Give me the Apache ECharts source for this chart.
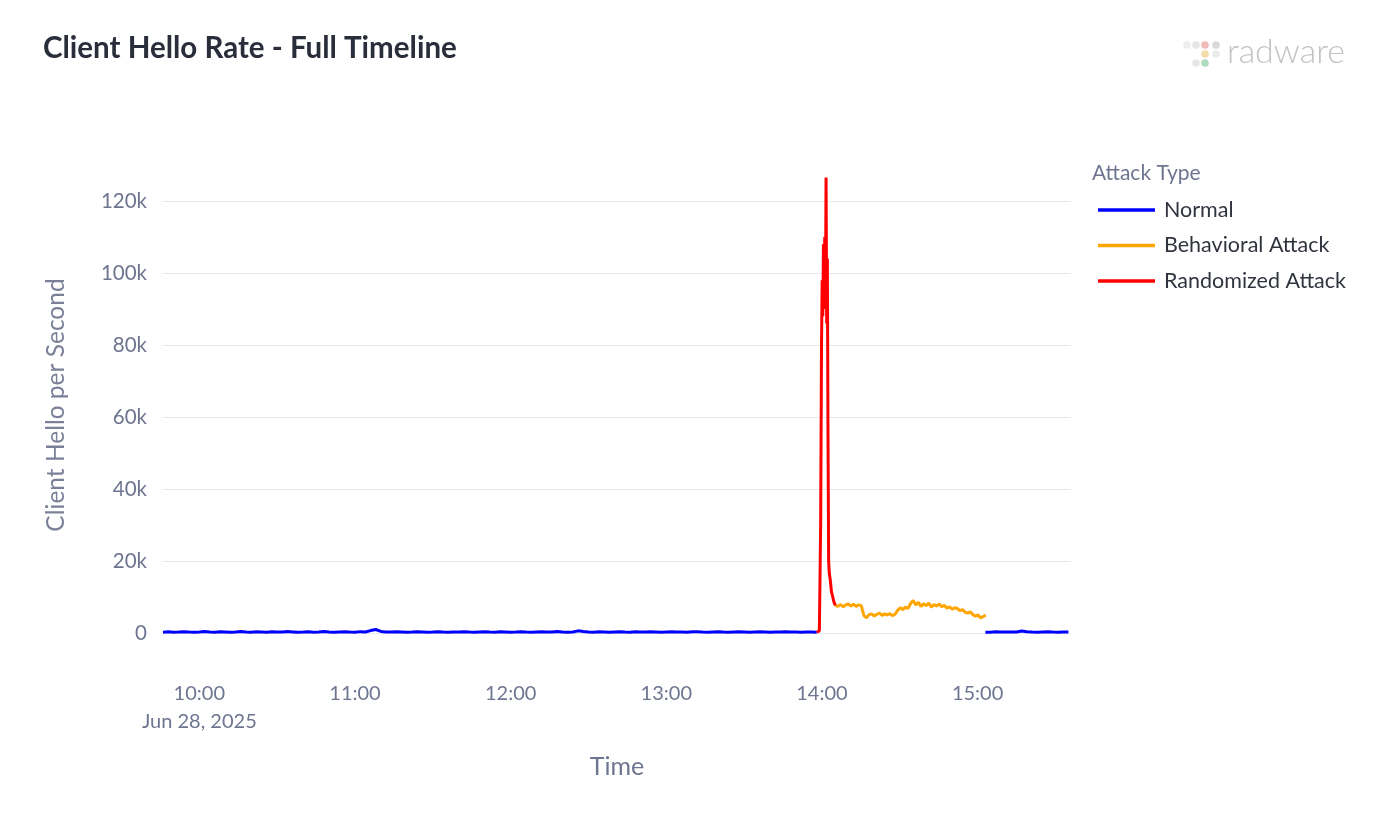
<!DOCTYPE html>
<html>
<head>
<meta charset="utf-8">
<script src="https://cdn.jsdelivr.net/npm/echarts@6/dist/echarts.min.js"></script>
<style>
html,body{margin:0;padding:0;background:#fff;}
#chart{width:1400px;height:818px;}
</style>
</head>
<body>
<div id="chart"></div>
<script>
// ---- Data ----
const seriesNames = ['Normal', 'Behavioral Attack', 'Randomized Attack'];
const seriesColors = ['#0000ff', '#ffa500', '#ff0000'];
const yTickValues = [0, 20000, 40000, 60000, 80000, 100000, 120000];
const yTickLabels = ['0', '20k', '40k', '60k', '80k', '100k', '120k'];
const xTickLabels = ['10:00', '11:00', '12:00', '13:00', '14:00', '15:00'];
const dateLabel = 'Jun 28, 2025';

// Normal traffic, first segment: 09:46 -> 13:58, every 2 minutes
const normalAStart = '09:46:00';
const normalAStepMin = 2;
const normalAValues = [
  240, 330, 200, 280, 370, 250, 210, 300, 440, 270, 220, 350, 290, 180, 260, 410, 300, 230, 320, 270,
  200, 340, 280, 250, 390, 310, 220, 270, 330, 240, 290, 420, 260, 210, 300, 350, 270, 230, 380, 290,
  670, 970, 440, 300, 250, 330, 280, 210, 270, 340, 300, 230, 290, 370, 250, 220, 310, 280, 340, 260,
  200, 290, 330, 270, 240, 380, 300, 220, 280, 350, 260, 230, 310, 340, 290, 250, 400, 280, 220, 270,
  600, 440, 290, 240, 330, 280, 210, 300, 360, 270, 230, 320, 290, 250, 340, 280, 220, 300, 370, 260,
  290, 230, 320, 350, 270, 210, 300, 380, 260, 240, 310, 330, 280, 220, 290, 340, 270, 200, 250, 300,
  330, 260, 290, 240, 310, 270, 200
];
// Normal traffic, second segment: 15:03 -> 15:35, every 2 minutes
const normalBStart = '15:03:00';
const normalBStepMin = 2;
const normalBValues = [240, 200, 330, 280, 250, 310, 290, 540, 340, 270, 220, 300, 350, 260, 230, 290, 270];

// Randomized attack spike
const randomTimes = [
  '13:58:00', '13:59:00', '13:59:30', '13:59:50', '14:00:05', '14:00:20', '14:00:35', '14:00:50',
  '14:01:05', '14:01:20', '14:01:35', '14:01:50', '14:02:05', '14:02:20', '14:02:35', '14:02:50',
  '14:03:10', '14:03:40', '14:04:10', '14:04:40', '14:05:10'
];
const randomValues = [
  200, 600, 30000, 80000, 98000, 88000, 108000, 95000,
  110000, 90000, 126500, 86000, 104000, 55000, 20000, 16500,
  15000, 11500, 10000, 8500, 7700
];

// Behavioral attack: 14:05 -> 15:03, every minute
const behavioralStart = '14:05:10';
const behavioralStepMin = 1;
const behavioralValues = [
  7700, 7400, 7900, 7300, 7800, 8100, 7500, 8000, 7400, 7800, 7600,
  4800, 4200, 5100, 5300, 4700, 5200, 5500, 4900, 5300, 5000, 5400, 4800, 5200,
  6300, 7000, 6500, 7200, 6800,
  8200, 9000, 7800, 8500, 7400, 8100, 7600, 8300, 7200, 7900, 7500, 8000, 7300, 7700,
  6900, 7300, 6600, 7000, 6800, 6200, 6500, 5800, 5500, 5900, 5100, 4700, 5000, 4200, 4600, 5000
];

const axisMinTime = '09:46:00';
const axisMaxTime = '15:36:00';

// ---- Helpers ----
function ts(hms) {
  const p = hms.split(':').map(Number);
  return new Date(2025, 5, 28, p[0], p[1], p[2] || 0).getTime();
}
function stepped(start, stepMin, values) {
  const t0 = ts(start);
  return values.map((v, i) => [t0 + i * stepMin * 60000, v]);
}

const normalData = stepped(normalAStart, normalAStepMin, normalAValues)
  .concat([[ts('14:30:00'), null]])
  .concat(stepped(normalBStart, normalBStepMin, normalBValues));
const behavioralData = stepped(behavioralStart, behavioralStepMin, behavioralValues);
const randomData = randomTimes.map((t, i) => [ts(t), randomValues[i]]);

const tickColor = '#6e7590';
const fontFam = 'Lato, "Noto Sans", sans-serif';

const chart = echarts.init(document.getElementById('chart'), null, {renderer: 'canvas'});
chart.setOption({
  animation: false,
  backgroundColor: '#ffffff',
  title: [
    {
      text: 'Client Hello Rate - Full Timeline',
      left: 38, top: 28,
      textStyle: {fontFamily: fontFam, fontWeight: 'bold', fontSize: 29.5, color: '#2a2e3b'}
    },
    {
      text: 'Attack Type',
      left: 1087, top: 158,
      textStyle: {fontFamily: fontFam, fontWeight: 'normal', fontSize: 21, color: tickColor}
    }
  ],
  graphic: [
    {type: 'circle', shape: {cx: 1187, cy: 45, r: 3.8}, style: {fill: '#ededed'}},
    {type: 'circle', shape: {cx: 1196, cy: 45, r: 3.8}, style: {fill: '#e6e6e6'}},
    {type: 'circle', shape: {cx: 1205, cy: 45, r: 3.8}, style: {fill: '#f2b9b9'}},
    {type: 'circle', shape: {cx: 1216, cy: 45, r: 3.8}, style: {fill: '#d9d9d9'}},
    {type: 'circle', shape: {cx: 1205, cy: 54, r: 3.8}, style: {fill: '#f7dcab'}},
    {type: 'circle', shape: {cx: 1216, cy: 54, r: 3.8}, style: {fill: '#ececec'}},
    {type: 'circle', shape: {cx: 1196, cy: 63, r: 3.8}, style: {fill: '#e6e6e6'}},
    {type: 'circle', shape: {cx: 1205, cy: 63, r: 3.8}, style: {fill: '#acdcbd'}},
    {type: 'text', left: 1227, top: 35, style: {text: 'radware', fontFamily: fontFam, fontWeight: 300, fontSize: 34, fill: '#c3c3c3'}},
    {type: 'text', x: 56, y: 405, rotation: Math.PI / 2,
     style: {text: 'Client Hello per Second', fontFamily: fontFam, fontSize: 24.5, fill: '#7a8098', align: 'center', verticalAlign: 'middle'}}
  ],
  legend: {
    orient: 'vertical',
    left: 1093, top: 194,
    data: seriesNames,
    icon: 'rect',
    itemWidth: 57, itemHeight: 3.5,
    itemGap: 13.5,
    textStyle: {fontFamily: fontFam, fontSize: 21.5, color: '#30343f', lineHeight: 22, padding: [0, 0, 0, 4]}
  },
  grid: {left: 163, right: 329, top: 201, bottom: 185, containLabel: false},
  xAxis: {
    type: 'time',
    min: ts(axisMinTime),
    max: ts(axisMaxTime),
    minInterval: 3600000,
    maxInterval: 3600000,
    axisLine: {show: false},
    axisTick: {show: false},
    splitLine: {show: false},
    name: 'Time',
    nameLocation: 'middle',
    nameGap: 121,
    nameTextStyle: {fontFamily: fontFam, fontSize: 25, color: tickColor},
    axisLabel: {
      margin: 47,
      fontFamily: fontFam, fontSize: 20, color: tickColor, lineHeight: 28,
      formatter: function (value) {
        const d = new Date(value);
        const lbl = String(d.getHours()).padStart(2, '0') + ':' + String(d.getMinutes()).padStart(2, '0');
        if (xTickLabels.indexOf(lbl) < 0) return '';
        return lbl === xTickLabels[0] ? lbl + '\n' + dateLabel : lbl;
      }
    }
  },
  yAxis: {
    type: 'value',
    min: yTickValues[0],
    max: yTickValues[yTickValues.length - 1],
    interval: 20000,
    axisLine: {show: false},
    axisTick: {show: false},
    splitLine: {lineStyle: {color: '#e5e8f1', width: 1}},
    axisLabel: {
      margin: 16,
      fontFamily: fontFam, fontSize: 20.5, color: tickColor,
      formatter: function (v) {
        const i = yTickValues.indexOf(v);
        return i >= 0 ? yTickLabels[i] : '';
      }
    }
  },
  series: [
    {name: seriesNames[0], type: 'line', data: normalData, showSymbol: false, clip: false,
     connectNulls: false, lineStyle: {width: 3, color: seriesColors[0]}, itemStyle: {color: seriesColors[0]}},
    {name: seriesNames[1], type: 'line', data: behavioralData, showSymbol: false, clip: false,
     lineStyle: {width: 3, color: seriesColors[1]}, itemStyle: {color: seriesColors[1]}},
    {name: seriesNames[2], type: 'line', data: randomData, showSymbol: false, clip: false,
     lineStyle: {width: 3, color: seriesColors[2]}, itemStyle: {color: seriesColors[2]}}
  ]
});
</script>
</body>
</html>
